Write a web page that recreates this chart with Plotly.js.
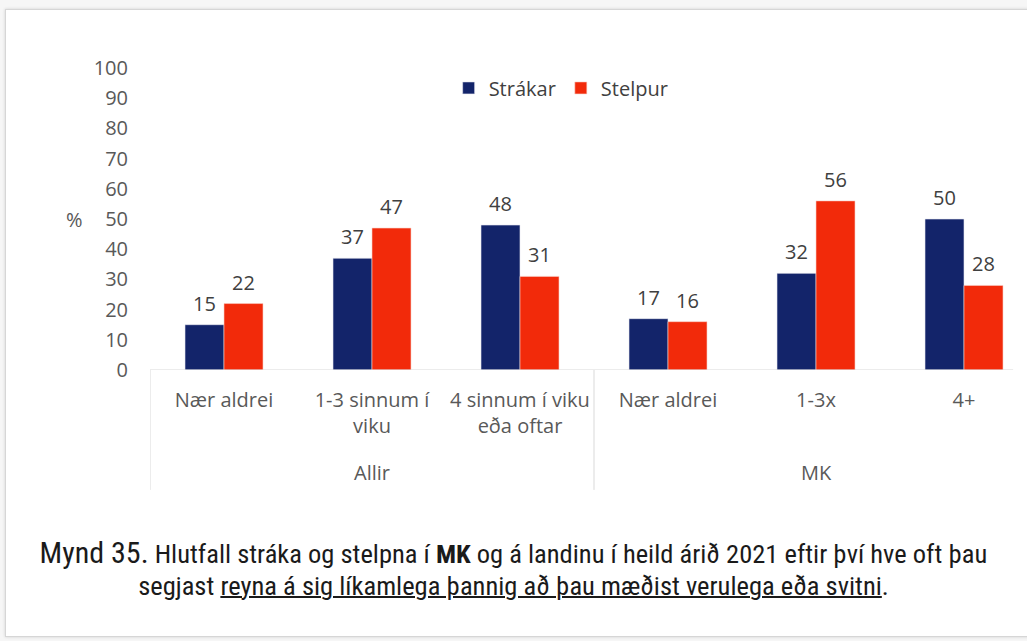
<!DOCTYPE html>
<html>
<head>
<meta charset="utf-8">
<script src="https://cdn.plot.ly/plotly-3.0.1.min.js"></script>
<style>
  html, body { margin:0; padding:0; background:#f6f6f6; overflow:hidden; }
  #frame { position:absolute; left:5px; top:9px; width:1030px; height:626px; background:#fff; border:1px solid #d6d6d6; box-shadow:0 0 3px rgba(0,0,0,0.15); }
  #wrap { position:absolute; left:0; top:0; width:1027px; height:641px; overflow:hidden; }
  #chart { position:absolute; left:0; top:0; width:1052px; height:641px; }
  #caption { position:absolute; left:0; top:537px; width:1027px; text-align:center; font-family:"Liberation Sans Narrow","Roboto Condensed","Liberation Sans",sans-serif; color:#1a1a1a; font-size:26.5px; line-height:32px; white-space:nowrap; }
  #caption .big { font-size:30px; }
  #caption u { text-decoration:underline; text-decoration-thickness:1.5px; }
</style>
</head>
<body>
<div id="frame"></div>
<div id="wrap"><div id="chart"></div></div>
<div id="caption"><span class="big">Mynd 35.</span> Hlutfall stráka og stelpna í <b>MK</b> og á landinu í heild árið 2021 eftir því hve oft þau<br>segjast <u>reyna á sig líkamlega þannig að þau mæðist verulega eða svitni</u>.</div>
<script>
const groups = ["Allir", "Allir", "Allir", "MK", "MK", "MK"];
const categories = ["Nær aldrei", "1-3 sinnum í<br>viku", "4 sinnum í viku<br>eða oftar", "Nær aldrei", "1-3x", "4+"];
const strakar = [15, 37, 48, 17, 32, 50];
const stelpur = [22, 47, 31, 16, 56, 28];
const yTicks = [0, 10, 20, 30, 40, 50, 60, 70, 80, 90, 100];

const idx = categories.map((_, i) => i);
const font = "Open Sans, Noto Sans, sans-serif";
const bargap = 0.473;

// group spans derived from the group array
const groupNames = [...new Set(groups)];
const spans = groupNames.map(g => {
  const ii = idx.filter(i => groups[i] === g);
  return {name:g, first:Math.min(...ii), last:Math.max(...ii)};
});

const series = [
  {name:"Strákar", values:strakar, color:"#13246A", edge:"#e8e8f0"},
  {name:"Stelpur", values:stelpur, color:"#F22A0A", edge:"#f8d0c8"}
];

const traces = series.map(s => ({
  type:"bar", name:s.name, x:idx, y:s.values,
  marker:{color:s.color, line:{color:s.edge, width:0.6}}
}));

const shapes = [
  {type:"line", xref:"paper", yref:"y", x0:0, x1:0.972, y0:0, y1:0, line:{color:"#d9d9d9", width:1}}
].concat(spans.map(s => ({type:"line", xref:"x", yref:"paper", x0:s.first-0.5, x1:s.first-0.5, y0:0, y1:-0.397,
  line:{color:"#d9d9d9", width:1}})));

// value labels placed above each bar (bar centre derived from bargap and series order)
const barW = (1 - bargap) / series.length;
const valueLabels = [];
series.forEach((s, k) => {
  const off = -((1 - bargap) / 2) + barW * (k + 0.5);
  s.values.forEach((v, i) => valueLabels.push({
    text:String(v), xref:"x", yref:"y", x:i + off, y:v, showarrow:false,
    xanchor:"center", yanchor:"bottom", yshift:6,
    font:{family:font, size:20, color:"#404040"}
  }));
});

const annotations = [
  {text:"%", xref:"paper", yref:"y", x:-0.085, y:50, showarrow:false, xanchor:"center", yanchor:"middle",
   font:{family:font, size:20, color:"#595959"}}
].concat(spans.map(s => ({text:s.name, xref:"x", yref:"paper", x:(s.first+s.last)/2, y:-0.341,
  showarrow:false, xanchor:"center", yanchor:"middle", font:{family:font, size:20, color:"#595959"}})))
 .concat(valueLabels);

const layout = {
  width:1052, height:641,
  paper_bgcolor:"rgba(0,0,0,0)", plot_bgcolor:"rgba(0,0,0,0)",
  margin:{l:150, r:14, t:68, b:271},
  barmode:"group", bargap:bargap, bargroupgap:0,
  font:{family:font, size:20, color:"#595959"},
  showlegend:true,
  legend:{orientation:"h", x:0.463, xanchor:"center", y:0.934, yanchor:"middle",
          font:{family:font, size:20, color:"#404040"}, itemwidth:30, traceorder:"normal"},
  xaxis:{range:[-0.5, idx.length-0.5], tickvals:idx, ticktext:categories, showline:false, zeroline:false,
         showgrid:false, ticks:"", ticklabelstandoff:16,
         tickfont:{family:font, size:20, color:"#595959"}},
  yaxis:{range:[0,100], tickvals:yTicks, ticktext:yTicks.map(String), showgrid:false, zeroline:false,
         showline:false, ticks:"", ticklabelstandoff:21,
         tickfont:{family:font, size:20, color:"#595959"}},
  shapes:shapes,
  annotations:annotations
};
Plotly.newPlot("chart", traces, layout, {displayModeBar:false, staticPlot:true});
</script>
</body>
</html>
